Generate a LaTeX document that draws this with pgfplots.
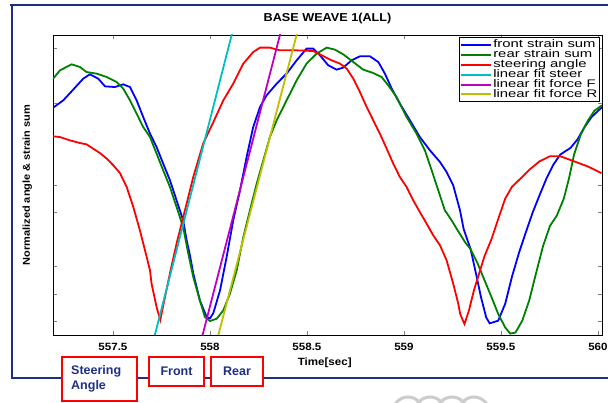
\documentclass[border=0pt]{standalone}
\usepackage{fontspec}
\setmainfont{Liberation Sans}
\newfontfamily\legfont[FakeStretch=1.35]{Liberation Sans}
\newfontfamily\labfont[FakeStretch=1.1]{Liberation Sans}
\usepackage{pgfplots}
\pgfplotsset{compat=1.18}
\definecolor{navy}{RGB}{30,48,130}
\definecolor{mblue}{RGB}{0,0,255}
\definecolor{mgreen}{RGB}{0,128,0}
\definecolor{mred}{RGB}{255,0,0}
\definecolor{mcyan}{RGB}{0,191,191}
\definecolor{mmag}{RGB}{191,0,191}
\definecolor{molive}{RGB}{191,191,0}
\begin{document}
\begin{tikzpicture}
\useasboundingbox (0pt,0pt) rectangle (608pt,403pt);
\fill[white] (0pt,0pt) rectangle (608pt,403pt);
\draw[navy, line width=2.5pt] (10pt,398pt) -- (608pt,398pt);
\draw[navy, line width=2.5pt] (12pt,398pt) -- (12pt,25pt) -- (608pt,25pt);
\foreach \cx in {408,430,452,474} \draw[gray!40, line width=3pt] (\cx pt,-9pt) circle (15pt);
\begin{axis}[
  at={(53pt,68pt)}, anchor=south west, scale only axis,
  width=549pt, height=300pt,
  xmin=557.191, xmax=560.021, ymin=-1.1, ymax=1.1,
  axis line style={black, line width=0.6pt},
  xtick={557.5,558,558.5,559,559.5,560},
  xticklabels={557.5,558,558.5,559,559.5,560},
  ytick={-1,-0.8,-0.6,-0.2,0,0.6,1},
  yticklabel style={text opacity=0},
  tick style={gray, line width=0.8pt},
  major tick length=4pt,
  tick align=inside,
  xticklabel style={font=\labfont\bfseries\fontsize{10.5}{12}\selectfont, anchor=north, yshift=-5pt},
  xlabel={Time[sec]},
  xlabel style={font=\labfont\bfseries\fontsize{10.5}{12}\selectfont, at={(axis description cs:0.495,0)}, anchor=north, yshift=-19pt},
  ylabel={Normalized angle \& strain sum},
  ylabel style={font=\labfont\bfseries\fontsize{10}{12}\selectfont, at={(axis description cs:-0.047,0.5)}, anchor=center},
  title={BASE WEAVE 1(ALL)},
  title style={font=\labfont\bfseries\fontsize{11.5}{12}\selectfont, at={(axis description cs:0.5,1)}, anchor=south, inner sep=0pt, yshift=5pt},
  legend style={at={(rel axis cs:0.9965,0.993)}, anchor=north east, draw=black, line width=0.6pt, fill=white,
    font=\legfont\fontsize{11}{12}\selectfont, inner sep=1pt, row sep=-2.5pt, nodes={inner sep=1.5pt}},
  legend cell align=left,
  legend image code/.code={\draw[#1, line width=2pt] (0pt,0pt) -- (30pt,0pt);},
  every axis plot/.append style={line width=1.8pt},
]
\addplot[mblue] coordinates {
(557.192,0.5673) (557.244,0.6208) (557.295,0.6993) (557.347,0.7800) (557.381,0.8115)
(557.424,0.7800) (557.459,0.7235) (557.510,0.7184) (557.553,0.7382) (557.588,0.7184)
(557.622,0.6208) (557.656,0.4983) (557.691,0.3766) (557.725,0.2783) (557.759,0.1566)
(557.794,0.0341) (557.828,-0.1126) (557.862,-0.2593) (557.880,-0.4060) (557.897,-0.5160)
(557.914,-0.6480) (557.948,-0.8460) (557.983,-0.9685) (558.000,-0.9780) (558.017,-0.9413)
(558.052,-0.7726) (558.086,-0.5284) (558.120,-0.2593) (558.155,-0.0392) (558.189,0.2050)
(558.223,0.4250) (558.258,0.5717) (558.292,0.6575) (558.344,0.7433) (558.395,0.8166)
(558.447,0.9142) (558.498,1.0) (558.532,1.0) (558.567,0.9509) (558.610,0.8775)
(558.653,0.8460) (558.687,0.8607) (558.730,0.9142) (558.773,0.9435) (558.825,0.9435)
(558.868,0.9017) (558.902,0.8166) (558.937,0.7066) (558.979,0.5966) (559.031,0.4741)
(559.082,0.3517) (559.134,0.2541) (559.186,0.1683) (559.220,0.0950) (559.254,-0.0026)
(559.289,-0.1859) (559.308,-0.3238) (559.344,-0.4719) (559.371,-0.6472) (559.397,-0.8210)
(559.424,-0.9707) (559.442,-1.0147) (559.486,-0.9949) (559.522,-0.8709) (559.557,-0.6722)
(559.593,-0.4976) (559.628,-0.3487) (559.664,-0.1999) (559.699,-0.0752) (559.735,0.0488)
(559.770,0.1485) (559.806,0.2233) (559.859,0.2725) (559.895,0.3348) (559.930,0.4221)
(559.966,0.4962) (560.002,0.5460) (560.021,0.5695)
};
\addlegendentry{front strain sum}
\addplot[mgreen] coordinates {
(557.192,0.7800) (557.227,0.8409) (557.287,0.8849) (557.330,0.8651) (557.364,0.8284)
(557.416,0.8166) (557.468,0.7917) (557.519,0.7550) (557.553,0.7066) (557.588,0.6208)
(557.622,0.5233) (557.656,0.4250) (557.691,0.3517) (557.725,0.2299) (557.759,0.1074)
(557.794,-0.0150) (557.828,-0.1617) (557.862,-0.3084) (557.887,-0.4940) (557.914,-0.6751)
(557.948,-0.8460) (557.974,-0.9685) (558.000,-0.9978) (558.035,-0.9802) (558.069,-0.9193)
(558.103,-0.7968) (558.138,-0.6260) (558.172,-0.3817) (558.206,-0.1859) (558.241,0.0099)
(558.275,0.1808) (558.309,0.3517) (558.344,0.4741) (558.395,0.6208) (558.447,0.7675)
(558.498,0.8900) (558.550,0.9633) (558.602,1.0073) (558.644,0.9927) (558.687,0.9582)
(558.739,0.9017) (558.790,0.8460) (558.842,0.8210) (558.885,0.7917) (558.919,0.7308)
(558.962,0.6450) (559.014,0.4983) (559.065,0.3766) (559.108,0.2541) (559.143,0.1074)
(559.177,-0.0392) (559.211,-0.1859) (559.246,-0.2593) (559.273,-0.3238) (559.317,-0.4235)
(559.344,-0.4719) (559.379,-0.5724) (559.415,-0.6971) (559.451,-0.8210) (559.486,-0.9457)
(559.522,-1.0447) (559.548,-1.0895) (559.575,-1.0821) (559.610,-0.9949) (559.646,-0.8460)
(559.681,-0.6472) (559.717,-0.4485) (559.753,-0.2989) (559.788,-0.2248) (559.824,-0.1001)
(559.851,0.0488) (559.877,0.2233) (559.912,0.3722) (559.948,0.4719) (559.983,0.5460)
(560.021,0.5842)
};
\addlegendentry{rear strain sum}
\addplot[mred] coordinates {
(557.192,0.3568) (557.227,0.3517) (557.278,0.3275) (557.330,0.3077) (557.364,0.2981)
(557.398,0.2666) (557.433,0.2343) (557.468,0.1933) (557.502,0.1441) (557.536,0.0876)
(557.571,-0.0150) (557.605,-0.1617) (557.639,-0.3326) (557.674,-0.5284) (557.691,-0.6260)
(557.699,-0.7235) (557.725,-0.8951) (557.744,-0.9900) (557.768,-0.8240) (557.797,-0.6260)
(557.828,-0.4300) (557.871,-0.1860) (557.914,0.0580) (557.965,0.3033) (558.017,0.4595)
(558.069,0.6208) (558.120,0.7433) (558.172,0.8900) (558.223,0.9751) (558.258,1.0073)
(558.309,1.0073) (558.361,0.9875) (558.447,0.9875) (558.532,0.9824) (558.567,0.9582)
(558.619,0.9193) (558.670,0.8900) (558.705,0.8533) (558.739,0.7800) (558.773,0.6817)
(558.808,0.5717) (558.842,0.4741) (558.876,0.3766) (558.911,0.2666) (558.945,0.1566)
(558.979,0.0583) (559.014,-0.0150) (559.048,-0.1126) (559.082,-0.1984) (559.117,-0.2834)
(559.151,-0.3693) (559.186,-0.4426) (559.220,-0.5526) (559.254,-0.7235) (559.280,-0.8702)
(559.290,-0.9457) (559.312,-1.0198) (559.335,-0.9208) (559.361,-0.7712) (559.388,-0.6472)
(559.415,-0.5226) (559.451,-0.3986) (559.486,-0.2490) (559.522,-0.1001) (559.557,-0.0128)
(559.593,0.0363) (559.646,0.1111) (559.699,0.1735) (559.753,0.2109) (559.806,0.2109)
(559.877,0.1735) (559.948,0.1360) (560.019,0.0862)
};
\addlegendentry{steering angle}
\addplot[mcyan] coordinates {(557.698,-1.2) (558.130,1.2)};
\addlegendentry{linear fit steer}
\addplot[mmag] coordinates {(557.944,-1.2) (558.379,1.2)};
\addlegendentry{linear fit force F}
\addplot[molive] coordinates {(558.025,-1.2) (558.465,1.2)};
\addlegendentry{linear fit force R}
\end{axis}
\draw[mred, line width=2pt, fill=white] (62pt,2pt) rectangle (137pt,46pt);
\node[navy, font=\bfseries\fontsize{12.5}{15.5}\selectfont, align=left, anchor=west, inner sep=0pt] at (71pt,24pt) {Steering\\Angle};
\draw[mred, line width=2pt, fill=white] (149pt,17pt) rectangle (204pt,46pt);
\node[navy, font=\bfseries\fontsize{12.5}{15}\selectfont, inner sep=0pt] at (176.5pt,31.5pt) {Front};
\draw[mred, line width=2pt, fill=white] (211pt,17pt) rectangle (263pt,46pt);
\node[navy, font=\bfseries\fontsize{12.5}{15}\selectfont, inner sep=0pt] at (237pt,31.5pt) {Rear};
\end{tikzpicture}
\end{document}
